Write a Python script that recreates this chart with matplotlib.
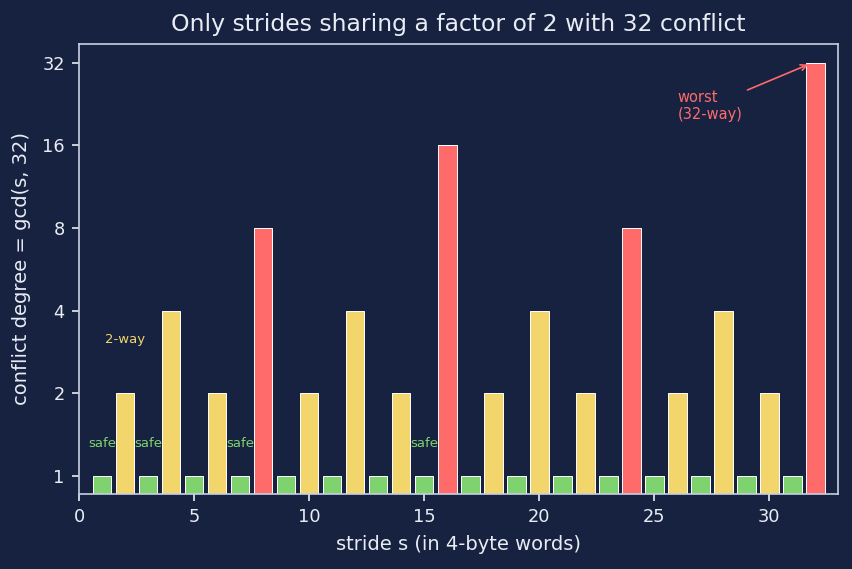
import matplotlib
matplotlib.use("Agg")
import matplotlib.pyplot as plt

# stride s and conflict degree gcd(s, 32)
strides = list(range(1, 33))
degree = [1, 2, 1, 4, 1, 2, 1, 8, 1, 2, 1, 4, 1, 2, 1, 16,
          1, 2, 1, 4, 1, 2, 1, 8, 1, 2, 1, 4, 1, 2, 1, 32]
safe_x = [1, 3, 7, 15]
yticks = [1, 2, 4, 8, 16, 32]

bg = "#172240"
fg = "#e8ecf4"
green = "#7fd36f"
yellow = "#f2d66b"
red = "#ff6b6b"

def col(d):
    if d == 1:
        return green
    if d <= 4:
        return yellow
    return red

fig, ax = plt.subplots(figsize=(8.52, 5.69), dpi=100)
fig.patch.set_facecolor(bg)
ax.set_facecolor(bg)

ax.bar(strides, degree, width=0.8, color=[col(d) for d in degree],
       edgecolor="white", linewidth=0.7)
ax.set_yscale("log", base=2)
ax.set_yticks(yticks)
ax.set_yticklabels([str(t) for t in yticks])
ax.minorticks_off()
ax.set_xlim(0, 33)
ax.set_ylim(0.86, 37.5)

for x in safe_x:
    ax.text(x, 1.31, "safe", color=green, fontsize=9.5, ha="center", va="center")
ax.text(2, 3.13, "2-way", color=yellow, fontsize=9.5, ha="center", va="center")
ax.annotate("worst\n(32-way)", xy=(31.8, 31.8), xytext=(26, 22.3),
            color=red, fontsize=10.5, ha="left", va="center",
            arrowprops=dict(arrowstyle="->", color=red, lw=1.2))

ax.set_title("Only strides sharing a factor of 2 with 32 conflict", color=fg,
             fontsize=16.9, pad=9)
ax.set_xlabel("stride s (in 4-byte words)", color=fg, fontsize=14, labelpad=6)
ax.set_ylabel("conflict degree = gcd(s, 32)", color=fg, fontsize=14, labelpad=8)
ax.tick_params(colors=fg, labelsize=12.8, length=5, pad=5.5, width=1.2)
for sp in ax.spines.values():
    sp.set_color("#c8d0e0")
    sp.set_linewidth(1.2)

fig.subplots_adjust(left=0.093, right=0.984, top=0.923, bottom=0.132)
fig.savefig("out.png", dpi=100, facecolor=bg)
